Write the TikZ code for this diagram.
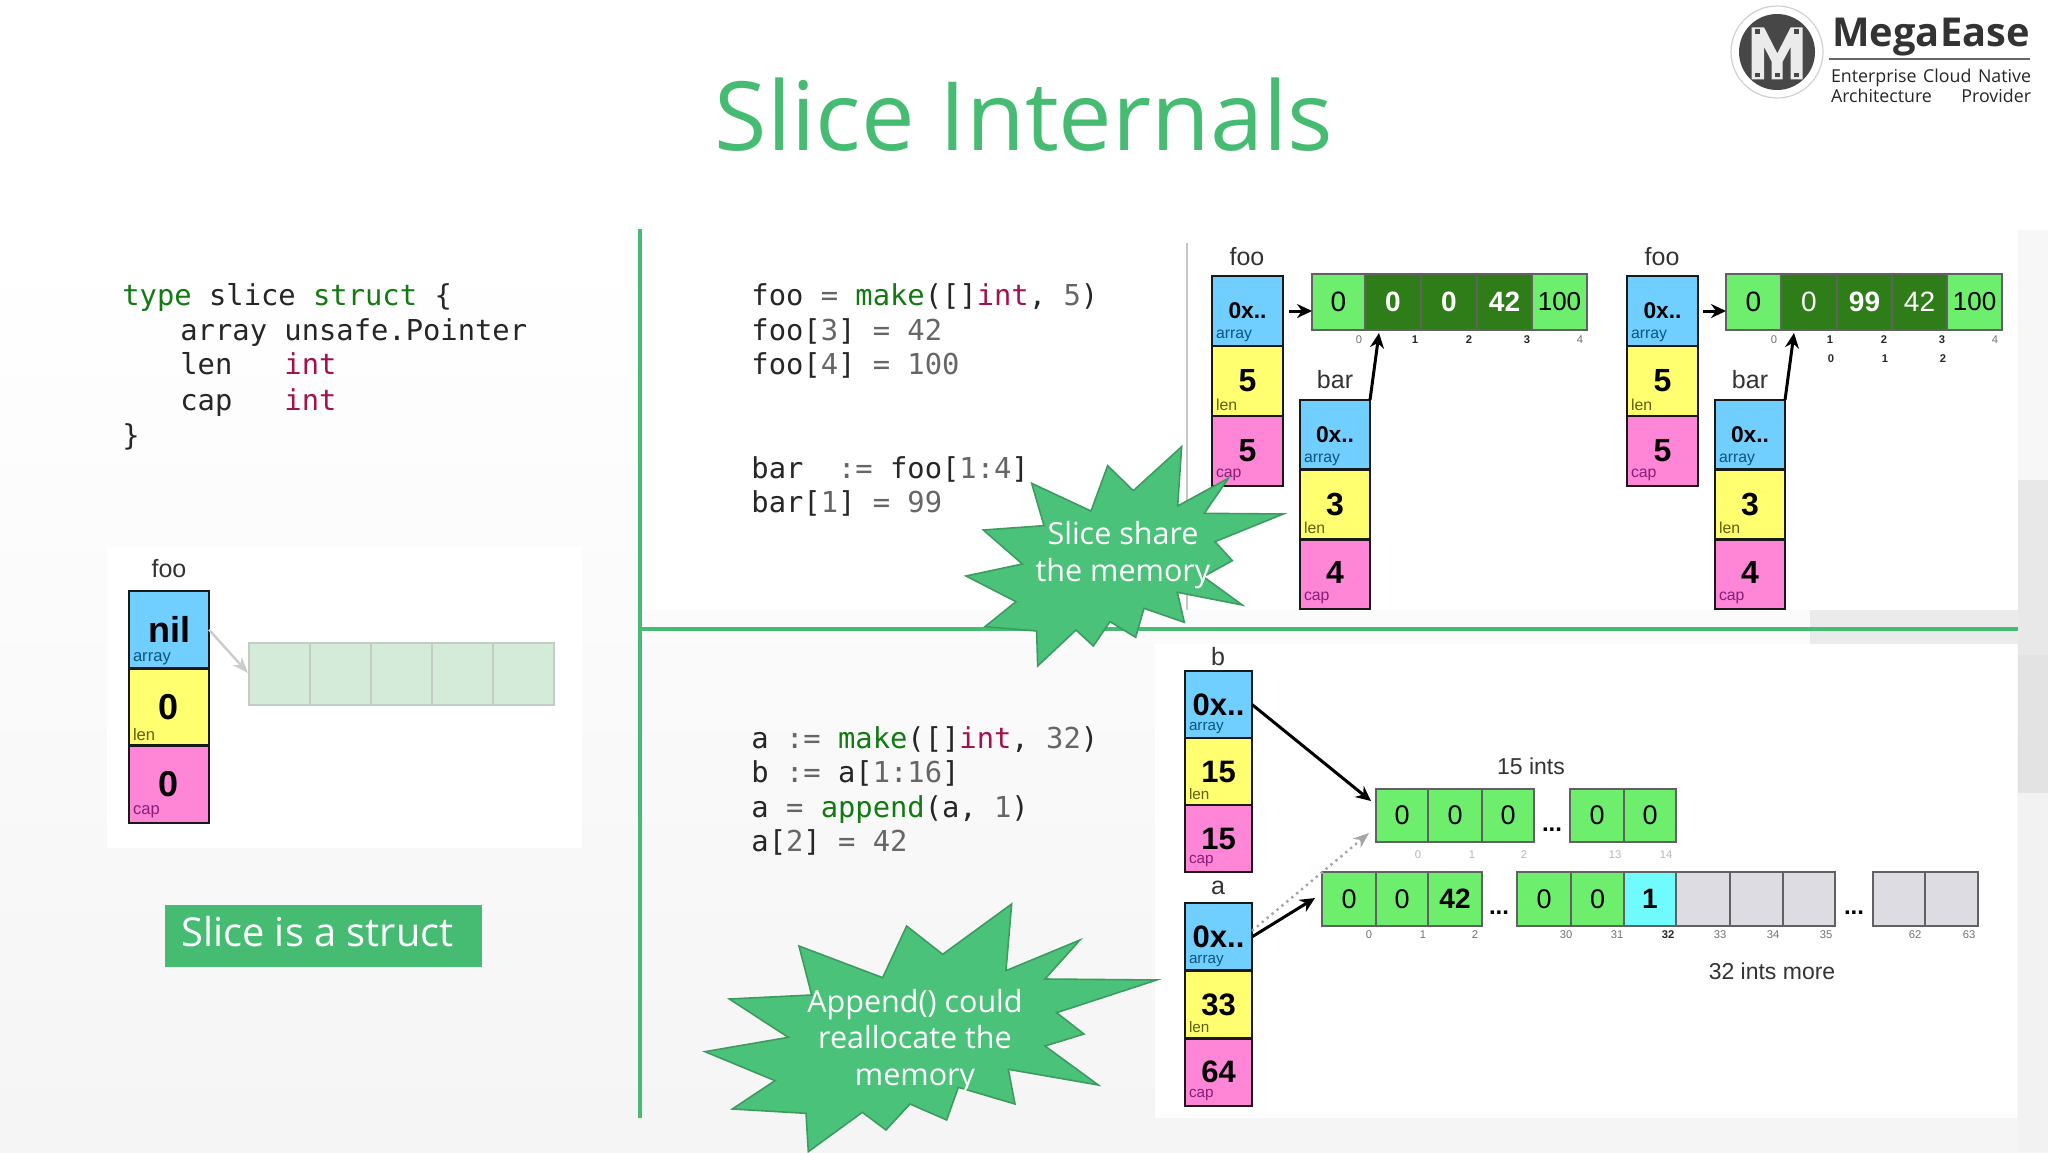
\documentclass[tikz,border=0pt]{standalone}
\usepackage{fontspec}
\setmainfont{Liberation Sans}
\newfontfamily\uifont{Open Sans}
\newfontfamily\codefont{DejaVu Sans Mono}
\usetikzlibrary{arrows.meta}
\definecolor{brandgreen}{HTML}{46BC73}
\definecolor{burstfill}{HTML}{4BC27A}
\definecolor{burstline}{HTML}{3C9C60}
\definecolor{cblue}{HTML}{70CFFF}
\definecolor{cyellow}{HTML}{FFFF70}
\definecolor{cpink}{HTML}{FF85D6}
\definecolor{lgreen}{HTML}{6DEE6D}
\definecolor{dgreen}{HTML}{2E7D18}
\definecolor{ggrey}{HTML}{DCDCE2}
\definecolor{ccyan}{HTML}{70FBFF}
\definecolor{kwgreen}{HTML}{117A11}
\definecolor{kwred}{HTML}{A3114F}
\definecolor{numgrey}{HTML}{666666}
\definecolor{ghostfill}{HTML}{D5EBDA}
\definecolor{ghostline}{HTML}{C2CEC5}
\tikzset{
  x=0.5pt,y=-0.5pt,
  cellbase/.style={inner sep=0,outer sep=0,align=center},
  slcell/.style={cellbase,draw=black!90,line width=1.2pt},
  arcell/.style={cellbase,draw=black!62,line width=0.8pt},
  lg/.style={arcell,fill=lgreen},
  dg/.style={arcell,fill=dgreen,text=white},
  gc/.style={arcell,fill=ggrey},
  cc/.style={arcell,fill=ccyan},
  ghost/.style={cellbase,fill=ghostfill,draw=ghostline,line width=0.7pt},
  toplabel/.style={inner sep=0,font=\fontsize{12.5pt}{14pt}\selectfont,text=black!80},
  idxg/.style={inner sep=0,font=\fontsize{5.6pt}{6pt}\selectfont,text=black!55},
  idxb/.style={inner sep=0,font=\fontsize{5.6pt}{6pt}\selectfont\bfseries,text=black!85},
  idxl/.style={inner sep=0,font=\fontsize{5.6pt}{6pt}\selectfont,text=black!28},
  dots/.style={inner sep=0,font=\fontsize{12pt}{12pt}\selectfont\bfseries},
  arr/.style={line width=1.5pt,-{Stealth[length=7.5pt,width=7pt]}},
  code/.style={inner sep=0,anchor=mid west,text=black!85,font=\codefont\fontsize{14.4pt}{17pt}\selectfont},
  bursts/.style={fill=burstfill,draw=burstline,line width=0.8pt,line join=miter,miter limit=20},
  bursttext/.style={inner sep=0,align=center,text=white,font=\uifont\fontsize{15.25pt}{18.3pt}\selectfont},
}
\newcommand{\cellbox}[7]{%
  \pgfmathsetmacro{\cw}{(#4-#2)*0.5}\pgfmathsetmacro{\ch}{(#5-#3)*0.5}%
  \pgfmathsetmacro{\cxx}{(#2+#4)/2}\pgfmathsetmacro{\cyy}{(#3+#5)/2}%
  \node[minimum width=\cw pt,minimum height=\ch pt,#6] (#1) at (\cxx,\cyy) {#7};}
\newcommand{\sv}[2]{\fontsize{#1pt}{#1pt}\selectfont\bfseries #2}
\newcommand{\svd}[2]{\fontsize{#1pt}{#1pt}\selectfont\bfseries\raisebox{-0.8pt}{#2}}
\newcommand{\svu}[2]{\fontsize{#1pt}{#1pt}\selectfont\bfseries\raisebox{1.6pt}{#2}}
\newcommand{\rv}[2]{\fontsize{#1pt}{#1pt}\selectfont #2}
\newcommand{\bv}[2]{\fontsize{#1pt}{#1pt}\selectfont\bfseries #2}
% id,x1,x2,ytop,ybot,v1,v2,v3,labelsize
\newcommand{\slicecol}[9]{%
  \pgfmathsetmacro{\ya}{#4+(#5-#4)/3}\pgfmathsetmacro{\yb}{#4+2*(#5-#4)/3}%
  \let\yaa\ya\let\ybb\yb
  \cellbox{#1a}{#2}{#4}{#3}{\yaa}{slcell,fill=cblue}{#6}
  \cellbox{#1l}{#2}{\yaa}{#3}{\ybb}{slcell,fill=cyellow}{#7}
  \cellbox{#1c}{#2}{\ybb}{#3}{#5}{slcell,fill=cpink}{#8}
  \node[inner sep=0,anchor=west,font=\fontsize{#9pt}{#9pt}\selectfont,text={rgb,255:red,12;green,85;blue,125}] (#1ta) at ([xshift=1.8pt,yshift=5pt]#1a.south west) {array};
  \node[inner sep=0,anchor=west,font=\fontsize{#9pt}{#9pt}\selectfont,text={rgb,255:red,95;green,95;blue,15}] (#1tl) at ([xshift=1.8pt,yshift=5.5pt]#1l.south west) {len};
  \node[inner sep=0,anchor=west,font=\fontsize{#9pt}{#9pt}\selectfont,text={rgb,255:red,135;green,30;blue,120}] (#1tc) at ([xshift=1.8pt,yshift=5.5pt]#1c.south west) {cap};
}
\begin{document}
\begin{tikzpicture}
\useasboundingbox (0,0) rectangle (2048,1152);
% background
\fill[white] (0,0) rectangle (2048,1152);
\shade[top color=white,bottom color=black!4] (0,240) rectangle (2048,1152);
\fill[black!8] (1810,610) rectangle (2018,644);
\fill[black!3] (2018,230) rectangle (2048,480);
\fill[black!9] (2018,480) rectangle (2048,655);
\fill[black!11] (2018,655) rectangle (2048,793);
\fill[black!5] (2018,793) rectangle (2048,1152);
\fill[white] (642,230) rectangle (2018,610);
\fill[white] (1155,644) rectangle (2017,1118);
\fill[white] (107,547) rectangle (582,848);
% logo
\fill[white] (1777,52) circle [radius=46];
\draw[black!18,line width=0.6pt] (1777,52) circle [radius=46];
\fill[black!72] (1777,52) circle [radius=38];
\begin{scope}[shift={(1700,0)},scale=0.3333]
\fill[white!92!black] (155,82)--(192,82)--(232,160)--(272,82)--(308,82)--(308,238)--(272,238)--(272,140)--(248,185)--(248,238)--(215,238)--(215,185)--(192,140)--(192,238)--(155,238)--cycle;
\foreach \sx/\sy in {172/95,290/95,172/225,232/225,290/225}
  \fill[black!72] (\sx-7,\sy-7) rectangle (\sx+7,\sy+7);
\end{scope}
\node[inner sep=0,anchor=center,text=black!80,font=\uifont\fontsize{19.9pt}{24pt}\selectfont\bfseries] (brand) at (1931,37) {MegaEase};
\coordinate (ruleL) at (1829,59);
\coordinate (ruleR) at (2030,59);
\draw[black!60,line width=1pt] (ruleL) -- (ruleR);
\node[inner sep=0,text=black!85,font=\uifont\fontsize{8.9pt}{11pt}\selectfont] (tag1) at (1931,78) {\makebox[100pt][s]{Enterprise Cloud Native}};
\node[inner sep=0,text=black!85,font=\uifont\fontsize{8.9pt}{11pt}\selectfont] (tag2) at (1931,96) {\makebox[100pt][s]{Architecture Provider}};
% title
\node[inner sep=0,text=brandgreen,font=\uifont\fontsize{47.8pt}{56pt}\selectfont] (title) at (1024,115) {Slice Internals};
% dividers
\coordinate (vt) at (640,229); \coordinate (vb) at (640,1118);
\coordinate (hl) at (642,629); \coordinate (hr) at (2018,629);
\draw[brandgreen,line width=2pt] (vt) -- (vb);
\draw[brandgreen,line width=2pt] (hl) -- (hr);
\coordinate (tt) at (1187,243); \coordinate (tb) at (1187,610);
\draw[black!22,line width=0.6pt] (tt) -- (tb);
% code left
\node[code] (c1) at (122,300) {\textcolor{kwgreen}{type} slice \textcolor{kwgreen}{struct} \{};
\node[code] (c2) at (180,335) {array unsafe.Pointer};
\node[code] (c3) at (180,369) {len~~~\textcolor{kwred}{int}};
\node[code] (c4) at (180,405) {cap~~~\textcolor{kwred}{int}};
\node[code] (c5) at (122,440) {\}};
% code top right
\node[code] (d1) at (751,300) {foo \textcolor{numgrey}{=} \textcolor{kwgreen}{make}([]\textcolor{kwred}{int}, \textcolor{numgrey}{5})};
\node[code] (d2) at (751,335) {foo[\textcolor{numgrey}{3}] \textcolor{numgrey}{=} \textcolor{numgrey}{42}};
\node[code] (d3) at (751,369) {foo[\textcolor{numgrey}{4}] \textcolor{numgrey}{=} \textcolor{numgrey}{100}};
\node[code] (d4) at (751,473) {bar~~\textcolor{numgrey}{:=} foo[\textcolor{numgrey}{1:4}]};
\node[code] (d5) at (751,507) {bar[\textcolor{numgrey}{1}] \textcolor{numgrey}{=} \textcolor{numgrey}{99}};
% code bottom
\node[code] (e1) at (751,743) {a \textcolor{numgrey}{:=} \textcolor{kwgreen}{make}([]\textcolor{kwred}{int}, \textcolor{numgrey}{32})};
\node[code] (e2) at (751,777) {b \textcolor{numgrey}{:=} a[\textcolor{numgrey}{1:16}]};
\node[code] (e3) at (751,812) {a \textcolor{numgrey}{=} \textcolor{kwgreen}{append}(a, \textcolor{numgrey}{1})};
\node[code] (e4) at (751,846) {a[\textcolor{numgrey}{2}] \textcolor{numgrey}{=} \textcolor{numgrey}{42}};
% left diagram
\node[toplabel] (lfoo) at (169,569) {foo};
\slicecol{nl}{129}{209}{591}{823}{\svd{18}{nil}}{\svd{18}{0}}{\svd{18}{0}}{8.3}
\foreach \n/\xa/\xb in {0/249/310,1/310/371,2/371/432,3/432/493,4/493/554}
  \cellbox{gh\n}{\xa}{643}{\xb}{705}{ghost}{};
\coordinate (ghtip) at (248,673);
\draw[black!20,line width=1.2pt,-{Stealth[length=8pt,width=6pt]}] (nla.east) -- (ghtip);
\cellbox{strbox}{165}{905}{482}{967}{cellbase,fill=brandgreen}{};
\node[inner sep=0,anchor=mid west,text=white,font=\uifont\fontsize{19.9pt}{24pt}\selectfont] (strtxt) at (181,941) {Slice is a struct};
% top right diagrams
\node[toplabel] (foo1) at (1247,257) {foo};
\slicecol{fa}{1212}{1283}{276}{486}{\svd{11.4}{0x..}}{\sv{16}{5}}{\sv{16}{5}}{7.9}
\node[toplabel] (bar1) at (1335,380) {bar};
\slicecol{ba}{1300}{1370}{400}{609}{\svd{11.4}{0x..}}{\sv{16}{3}}{\svu{16}{4}}{7.9}
\cellbox{ax0}{1312}{274}{1365}{330}{lg}{\rv{14}{0}}
\cellbox{ax1}{1365}{274}{1421}{330}{dg}{\bv{14}{0}}
\cellbox{ax2}{1421}{274}{1477}{330}{dg}{\bv{14}{0}}
\cellbox{ax3}{1477}{274}{1532}{330}{dg}{\bv{14}{42}}
\cellbox{ax4}{1532}{274}{1587}{330}{lg}{\rv{13}{100}}
\foreach \n/\x/\t/\s in {0/1359/0/idxg,1/1415/1/idxb,2/1469/2/idxb,3/1527/3/idxb,4/1580/4/idxg}
  \node[\s] (ixa\n) at (\x,340) {\t};
\coordinate (t1) at (1379,333);
\draw[arr] (faa.east -| ax0.west) ++(-23,0) coordinate (s1) (s1) -- (faa.east -| ax0.west);
\draw[arr] (baa.north east) -- (t1);
\node[toplabel] (foo2) at (1662,257) {foo};
\slicecol{fb}{1627}{1698}{276}{486}{\svd{11.4}{0x..}}{\sv{16}{5}}{\sv{16}{5}}{7.9}
\node[toplabel] (bar2) at (1750,380) {bar};
\slicecol{bb}{1715}{1785}{400}{609}{\svd{11.4}{0x..}}{\sv{16}{3}}{\svu{16}{4}}{7.9}
\cellbox{ay0}{1726}{274}{1781}{330}{lg}{\rv{14}{0}}
\cellbox{ay1}{1781}{274}{1837}{330}{dg}{\rv{14}{0}}
\cellbox{ay2}{1837}{274}{1892}{330}{dg}{\bv{14}{99}}
\cellbox{ay3}{1892}{274}{1947}{330}{dg}{\rv{14}{42}}
\cellbox{ay4}{1947}{274}{2002}{330}{lg}{\rv{13}{100}}
\foreach \n/\x/\t/\s in {0/1774/0/idxg,1/1830/1/idxb,2/1884/2/idxb,3/1942/3/idxb,4/1995/4/idxg}
  \node[\s] (iya\n) at (\x,340) {\t};
\foreach \n/\x/\t in {0/1831/0,1/1885/1,2/1943/2}
  \node[idxb] (iyb\n) at (\x,359) {\t};
\coordinate (t2) at (1794,333);
\draw[arr] (fba.east -| ay0.west) ++(-23,0) coordinate (s2) (s2) -- (fba.east -| ay0.west);
\draw[arr] (bba.north east) -- (t2);
% bottom right diagram
\node[toplabel] (lb) at (1218,657) {b};
\slicecol{sb}{1185}{1252}{671}{872}{\svd{15.5}{0x..}}{\sv{15.5}{15}}{\sv{15.5}{15}}{7.6}
\node[toplabel] (la) at (1218,888) {a};
\slicecol{sa}{1185}{1252}{903}{1106}{\svd{15.5}{0x..}}{\sv{15.5}{33}}{\sv{15.5}{64}}{7.6}
\node[toplabel,font=\fontsize{11.5pt}{13pt}\selectfont] (ints15) at (1531,766) {15 ints};
\cellbox{p0}{1376}{789}{1428}{842}{lg}{\rv{13.5}{0}}
\cellbox{p1}{1428}{789}{1482}{842}{lg}{\rv{13.5}{0}}
\cellbox{p2}{1482}{789}{1534}{842}{lg}{\rv{13.5}{0}}
\node[dots] (pd) at (1552,830) {...};
\cellbox{p3}{1570}{789}{1624}{842}{lg}{\rv{13.5}{0}}
\cellbox{p4}{1624}{789}{1676}{842}{lg}{\rv{13.5}{0}}
\foreach \n/\x/\t in {0/1418/0,1/1472/1,2/1524/2,13/1615/13,14/1666/14}
  \node[idxl] (ip\n) at (\x,855) {\t};
\cellbox{q0}{1322}{872}{1376}{926}{lg}{\rv{13.5}{0}}
\cellbox{q1}{1376}{872}{1428}{926}{lg}{\rv{13.5}{0}}
\cellbox{q2}{1428}{872}{1482}{926}{lg}{\bv{14}{42}}
\node[dots] (qd1) at (1499,913) {...};
\cellbox{q30}{1517}{872}{1571}{926}{lg}{\rv{13.5}{0}}
\cellbox{q31}{1571}{872}{1624}{926}{lg}{\rv{13.5}{0}}
\cellbox{q32}{1624}{872}{1676}{926}{cc}{\bv{14}{1}}
\cellbox{q33}{1676}{872}{1730}{926}{gc}{}
\cellbox{q34}{1730}{872}{1783}{926}{gc}{}
\cellbox{q35}{1783}{872}{1835}{926}{gc}{}
\node[dots] (qd2) at (1854,913) {...};
\cellbox{q62}{1873}{872}{1925}{926}{gc}{}
\cellbox{q63}{1925}{872}{1978}{926}{gc}{}
\foreach \n/\x/\t/\s in {0/1369/0/idxg,1/1423/1/idxg,2/1475/2/idxg,30/1566/30/idxg,31/1617/31/idxg,32/1668/32/idxb,33/1720/33/idxg,34/1773/34/idxg,35/1826/35/idxg,62/1915/62/idxg,63/1969/63/idxg}
  \node[\s] (iq\n) at (\x,935) {\t};
\node[toplabel,font=\fontsize{11.5pt}{13pt}\selectfont] (ints32) at (1772,971) {32 ints more};
\coordinate (tipb) at (1371,801);
\coordinate (tipa) at (1315,898);
\coordinate (tipg) at (1369,833);
\draw[arr] (sba.east) -- (tipb);
\draw[black!35,line width=1.2pt,dotted,-{Stealth[length=8pt,width=6pt]}] (saa.east) ++(0,-6) coordinate (dotst) (dotst) -- (tipg);
\draw[arr] (saa.east) -- (tipa);
% bursts
\begin{scope}[shift={(940,430)},scale=0.3333]
\draw[bursts] (725,50)--(713,228)--(865,145)--(793,250)--(1030,252)--(825,335)--(877,392)--(790,440)--(907,525)--(712,487)--(733,577)--(612,535)--(587,622)--(510,575)--(460,648)--(408,600)--(293,708)--(290,603)--(135,590)--(228,515)--(78,438)--(247,402)--(130,300)--(312,287)--(275,160)--(453,243)--(503,107)--(580,182)--cycle;
\end{scope}
\node[bursttext] (b1txt) at (1123,555) {Slice share\\the memory};
\begin{scope}[shift={(700,880)},scale=0.3333]
\draw[bursts] (935,72)--(918,272)--(1140,180)--(1035,297)--(1370,300)--(1070,398)--(1152,462)--(1035,498)--(1195,615)--(925,568)--(945,672)--(775,622)--(740,720)--(630,672)--(558,750)--(487,697)--(325,815)--(318,700)--(97,687)--(225,602)--(15,515)--(265,472)--(88,357)--(335,345)--(297,198)--(548,293)--(620,138)--(728,223)--cycle;
\end{scope}
\node[bursttext] (b2txt) at (915,1041) {Append() could\\reallocate the\\memory};
\end{tikzpicture}
\end{document}
